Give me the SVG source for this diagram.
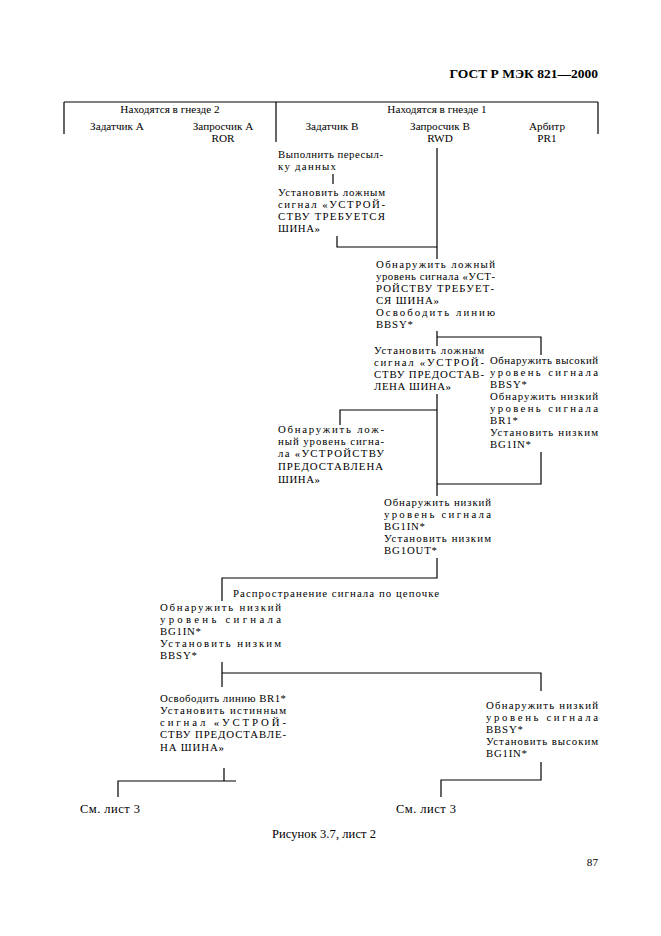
<svg xmlns="http://www.w3.org/2000/svg" width="661" height="936" viewBox="0 0 661 936">
<style>
text{font-family:"Liberation Serif","Times New Roman",serif;fill:#000}
.t{font-size:10.8px}
.h{font-size:11.2px}
.f{font-size:12.5px}
.c{text-anchor:middle}
.b{font-weight:bold;font-size:13.5px;text-anchor:end}
#connectors path{fill:none;stroke:#000;stroke-width:1.2}
</style>
<rect width="661" height="936" fill="#fff"/>
<text class="b" x="598" y="78">ГОСТ Р МЭК 821—2000</text>
<g id="connectors">
<path d="M64,102H598M64,102V134M276,102V142M598,102V134"/>
<path d="M437,148V259"/>
<path d="M333,174V184"/>
<path d="M337,236V247H437"/>
<path d="M437,331V346M437,337H541V355"/>
<path d="M437,394V496M437,410H340V425"/>
<path d="M541,452V484H437"/>
<path d="M437,558V578H222V601"/>
<path d="M222,662V687M222,673H541V691"/>
<path d="M224,768V781M236,781H118V797"/>
<path d="M541,762V780H441V797"/>
</g>
<g id="header">
<text class="h c" x="170" y="113">Находятся в гнезде 2</text>
<text class="h c" x="437" y="113">Находятся в гнезде 1</text>
<text class="h c" x="117" y="130">Задатчик A</text>
<text class="h c" x="223" y="130">Запросчик A<tspan x="223" y="142">ROR</tspan></text>
<text class="h c" x="332" y="130">Задатчик B</text>
<text class="h c" x="440" y="130">Запросчик B<tspan x="440" y="142">RWD</tspan></text>
<text class="h c" x="547" y="130">Арбитр<tspan x="547" y="142">PR1</tspan></text>
</g>
<g id="n1"><text class="t"><tspan x="278" y="158" textLength="105" lengthAdjust="spacing">Выполнить пересыл-</tspan><tspan x="278" y="170" textLength="58" lengthAdjust="spacing">ку данных</tspan></text></g>
<g id="n2"><text class="t"><tspan x="278" y="196" textLength="107" lengthAdjust="spacing">Установить ложным</tspan><tspan x="278" y="208" textLength="107" lengthAdjust="spacing">сигнал «УСТРОЙ-</tspan><tspan x="278" y="220" textLength="107" lengthAdjust="spacing">СТВУ ТРЕБУЕТСЯ</tspan><tspan x="278" y="232" textLength="42" lengthAdjust="spacing">ШИНА»</tspan></text></g>
<g id="n3"><text class="t"><tspan x="376" y="268" textLength="119" lengthAdjust="spacing">Обнаружить ложный</tspan><tspan x="376" y="280" textLength="119" lengthAdjust="spacing">уровень сигнала «УСТ-</tspan><tspan x="376" y="292" textLength="118" lengthAdjust="spacing">РОЙСТВУ ТРЕБУЕТ-</tspan><tspan x="376" y="304" textLength="63" lengthAdjust="spacing">СЯ ШИНА»</tspan><tspan x="376" y="316" textLength="119" lengthAdjust="spacing">Освободить линию</tspan><tspan x="376" y="328" textLength="37" lengthAdjust="spacing">BBSY*</tspan></text></g>
<g id="n4"><text class="t"><tspan x="374" y="354" textLength="110" lengthAdjust="spacing">Установить ложным</tspan><tspan x="374" y="366" textLength="110" lengthAdjust="spacing">сигнал «УСТРОЙ-</tspan><tspan x="374" y="378" textLength="110" lengthAdjust="spacing">СТВУ ПРЕДОСТАВ-</tspan><tspan x="374" y="390" textLength="77" lengthAdjust="spacing">ЛЕНА ШИНА»</tspan></text></g>
<g id="n5"><text class="t"><tspan x="490" y="364" textLength="108" lengthAdjust="spacing">Обнаружить высокий</tspan><tspan x="490" y="376" textLength="108" lengthAdjust="spacing">уровень сигнала</tspan><tspan x="490" y="388" textLength="37" lengthAdjust="spacing">BBSY*</tspan><tspan x="490" y="400" textLength="108" lengthAdjust="spacing">Обнаружить низкий</tspan><tspan x="490" y="412" textLength="108" lengthAdjust="spacing">уровень сигнала</tspan><tspan x="490" y="424" textLength="28" lengthAdjust="spacing">BR1*</tspan><tspan x="490" y="436" textLength="108" lengthAdjust="spacing">Установить низким</tspan><tspan x="490" y="448" textLength="41" lengthAdjust="spacing">BG1IN*</tspan></text></g>
<g id="n6"><text class="t"><tspan x="278" y="433" textLength="106" lengthAdjust="spacing">Обнаружить лож-</tspan><tspan x="278" y="445" textLength="106" lengthAdjust="spacing">ный уровень сигна-</tspan><tspan x="278" y="457" textLength="106" lengthAdjust="spacing">ла «УСТРОЙСТВУ</tspan><tspan x="278" y="470" textLength="105" lengthAdjust="spacing">ПРЕДОСТАВЛЕНА</tspan><tspan x="278" y="483" textLength="42" lengthAdjust="spacing">ШИНА»</tspan></text></g>
<g id="n7"><text class="t"><tspan x="384" y="506" textLength="107" lengthAdjust="spacing">Обнаружить низкий</tspan><tspan x="384" y="518" textLength="107" lengthAdjust="spacing">уровень сигнала</tspan><tspan x="384" y="530" textLength="41" lengthAdjust="spacing">BG1IN*</tspan><tspan x="384" y="542" textLength="107" lengthAdjust="spacing">Установить низким</tspan><tspan x="384" y="554" textLength="53" lengthAdjust="spacing">BG1OUT*</tspan></text></g>
<g id="n8"><text class="t" x="233" y="597" textLength="206" lengthAdjust="spacing">Распространение сигнала по цепочке</text></g>
<g id="n9"><text class="t"><tspan x="160" y="611" textLength="121" lengthAdjust="spacing">Обнаружить низкий</tspan><tspan x="160" y="623" textLength="121" lengthAdjust="spacing">уровень сигнала</tspan><tspan x="160" y="635" textLength="41" lengthAdjust="spacing">BG1IN*</tspan><tspan x="160" y="647" textLength="121" lengthAdjust="spacing">Установить низким</tspan><tspan x="160" y="659" textLength="37" lengthAdjust="spacing">BBSY*</tspan></text></g>
<g id="n10"><text class="t"><tspan x="160" y="702" textLength="126" lengthAdjust="spacing">Освободить линию BR1*</tspan><tspan x="160" y="714" textLength="126" lengthAdjust="spacing">Установить истинным</tspan><tspan x="160" y="726" textLength="126" lengthAdjust="spacing">сигнал «УСТРОЙ-</tspan><tspan x="160" y="738" textLength="126" lengthAdjust="spacing">СТВУ ПРЕДОСТАВЛЕ-</tspan><tspan x="160" y="751" textLength="64" lengthAdjust="spacing">НА ШИНА»</tspan></text></g>
<g id="n11"><text class="t"><tspan x="486" y="709" textLength="112" lengthAdjust="spacing">Обнаружить низкий</tspan><tspan x="486" y="721" textLength="112" lengthAdjust="spacing">уровень сигнала</tspan><tspan x="486" y="733" textLength="37" lengthAdjust="spacing">BBSY*</tspan><tspan x="486" y="745" textLength="112" lengthAdjust="spacing">Установить высоким</tspan><tspan x="486" y="757" textLength="41" lengthAdjust="spacing">BG1IN*</tspan></text></g>
<g id="n12"><text class="f" x="80" y="813" textLength="60" lengthAdjust="spacing">См. лист 3</text></g>
<g id="n13"><text class="f" x="396" y="813" textLength="60" lengthAdjust="spacing">См. лист 3</text></g>
<g id="caption">
<text class="f" x="272" y="838" textLength="104" lengthAdjust="spacing">Рисунок 3.7, лист 2</text>
<text class="h" x="598" y="866" text-anchor="end" font-size="11.5">87</text>
</g>
</svg>
